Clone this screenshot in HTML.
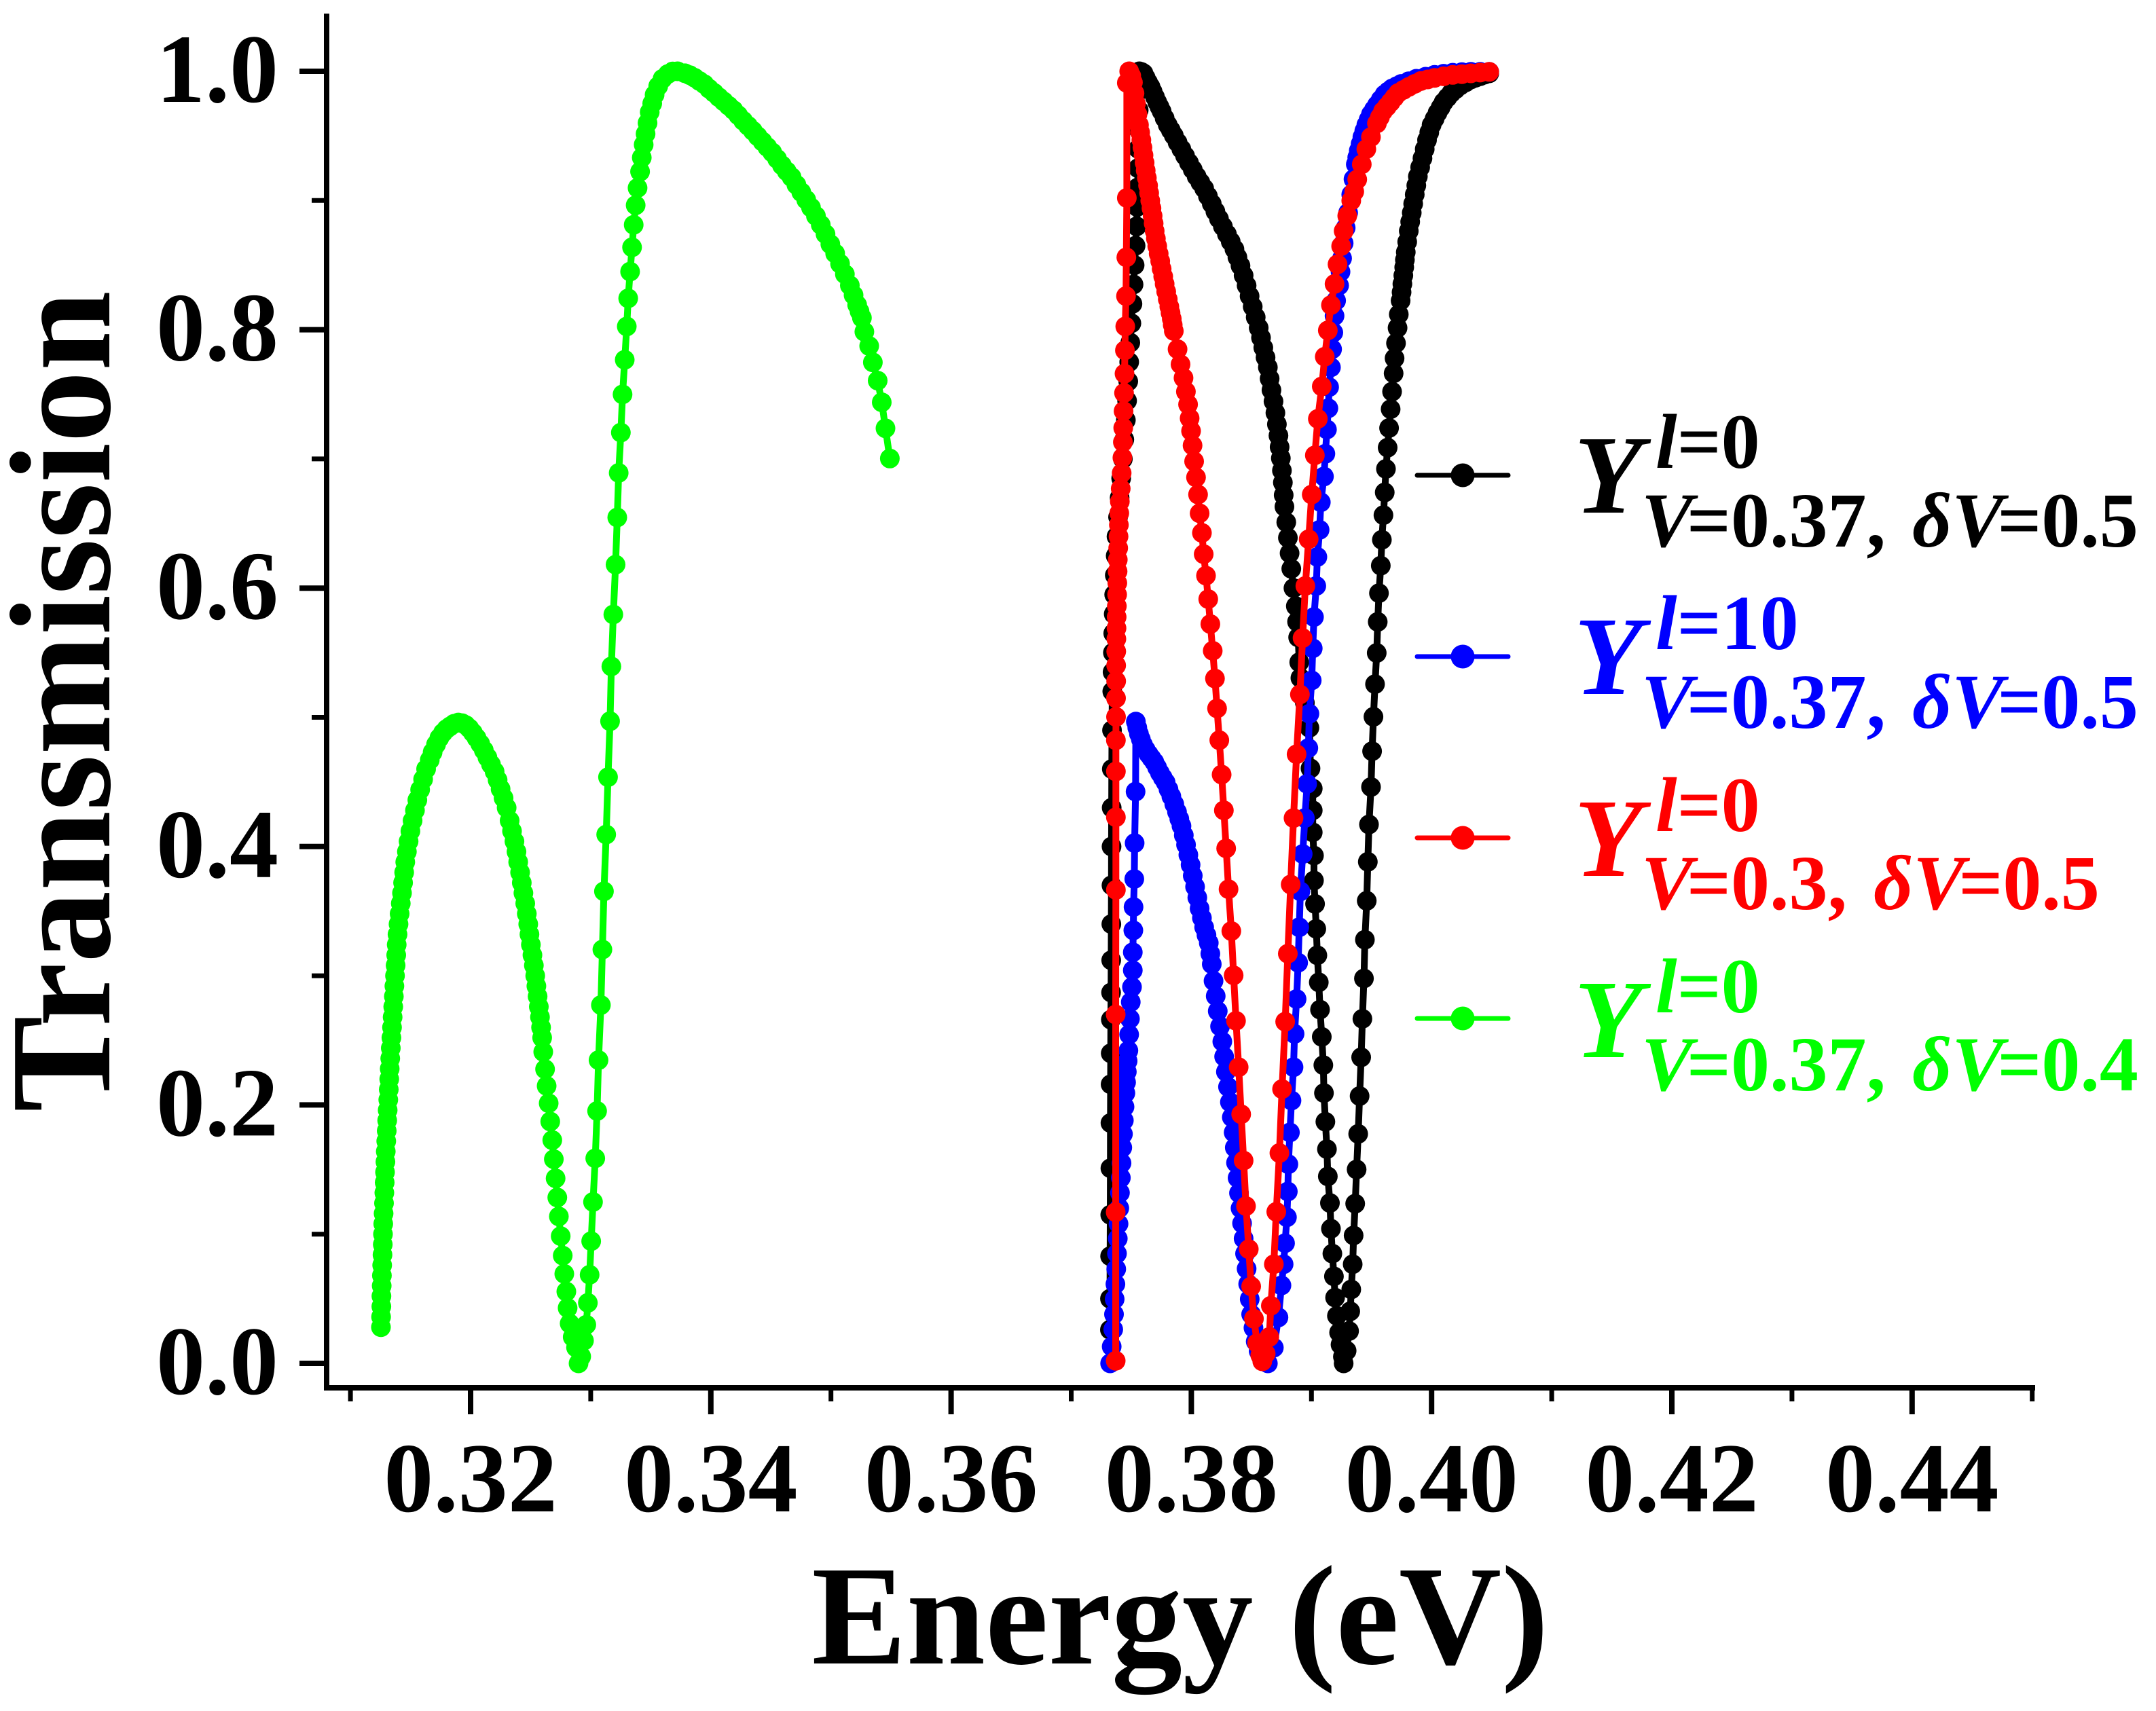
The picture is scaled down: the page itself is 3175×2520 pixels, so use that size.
<!DOCTYPE html>
<html>
<head>
<meta charset="utf-8">
<title>Transmission vs Energy</title>
<style>
html,body{margin:0;padding:0;background:#fff;width:3175px;height:2520px;overflow:hidden}
svg{display:block}
text{font-family:"Liberation Serif","Noto Serif CJK SC",serif;font-weight:bold}
.it{font-style:italic}
</style>
</head>
<body>
<svg id="chart" xmlns="http://www.w3.org/2000/svg" width="3175" height="2520" viewBox="0 0 3175 2520">
<rect x="0" y="0" width="3175" height="2520" fill="#fff"/>
<g id="plot"></g>
<g id="axes"></g>
<text x="1738" y="2450" font-size="209" text-anchor="middle">Energy (eV)</text>
<text transform="translate(161,1033) rotate(-90)" font-size="212" text-anchor="middle">Transmission</text>
<g>
 <g fill="#000">
  <line x1="2087" y1="700" x2="2221" y2="700" stroke="#000" stroke-width="7" stroke-linecap="round"/>
  <circle cx="2154" cy="700" r="17.5"/>
  <text class="it" x="2318" y="755" font-size="165">Y</text>
  <text x="2438" y="689" font-size="114"><tspan class="it">l</tspan>=0</text>
  <text x="2417" y="805" font-size="114"><tspan class="it">V</tspan><tspan dx="-9">=0.37,</tspan><tspan class="it" x="2816">δV</tspan><tspan dx="-9">=0.5</tspan></text>
 </g>
 <g fill="#0000ff">
  <line x1="2087" y1="967" x2="2221" y2="967" stroke="#0000ff" stroke-width="7" stroke-linecap="round"/>
  <circle cx="2154" cy="967" r="17.5"/>
  <text class="it" x="2318" y="1022" font-size="165">Y</text>
  <text x="2438" y="956" font-size="114"><tspan class="it">l</tspan>=10</text>
  <text x="2417" y="1072" font-size="114"><tspan class="it">V</tspan><tspan dx="-9">=0.37,</tspan><tspan class="it" x="2816">δV</tspan><tspan dx="-9">=0.5</tspan></text>
 </g>
 <g fill="#ff0000">
  <line x1="2087" y1="1234" x2="2221" y2="1234" stroke="#ff0000" stroke-width="7" stroke-linecap="round"/>
  <circle cx="2154" cy="1234" r="17.5"/>
  <text class="it" x="2318" y="1290" font-size="165">Y</text>
  <text x="2438" y="1224" font-size="114"><tspan class="it">l</tspan>=0</text>
  <text x="2417" y="1339" font-size="114"><tspan class="it">V</tspan><tspan dx="-9">=0.3,</tspan><tspan class="it" x="2759">δV</tspan><tspan dx="-9">=0.5</tspan></text>
 </g>
 <g fill="#00ff00">
  <line x1="2087" y1="1500" x2="2221" y2="1500" stroke="#00ff00" stroke-width="7" stroke-linecap="round"/>
  <circle cx="2154" cy="1500" r="17.5"/>
  <text class="it" x="2318" y="1557" font-size="165">Y</text>
  <text x="2438" y="1491" font-size="114"><tspan class="it">l</tspan>=0</text>
  <text x="2417" y="1606" font-size="114"><tspan class="it">V</tspan><tspan dx="-9">=0.37,</tspan><tspan class="it" x="2816">δV</tspan><tspan dx="-9">=0.4</tspan></text>
 </g>
</g>
</svg>
<script>
const xMajorTicks=[0.32,0.34,0.36,0.38,0.40,0.42,0.44];
const xMajorLabels=["0.32","0.34","0.36","0.38","0.40","0.42","0.44"];
const xMinorTicks=[0.31,0.33,0.35,0.37,0.39,0.41,0.43,0.45];
const yMajorTicks=[0,0.2,0.4,0.6,0.8,1.0];
const yMajorLabels=["0.0","0.2","0.4","0.6","0.8","1.0"];
const yMinorTicks=[0.1,0.3,0.5,0.7,0.9];

const blackSeries=[[.37322,.026],[.37323,.05],[.37324,.083],[.37325,.115],[.37326,.151],[.37327,.186],[.37328,.216],[.37329,.24],[.3733,.266],[.37332,.287],[.37333,.312],[.37334,.34],[.37335,.37],[.37336,.4],[.37337,.43],[.37338,.46],[.3734,.49],[.37342,.52],[.37344,.535],[.37347,.55],[.3735,.565],[.37354,.58],[.37358,.595],[.37363,.61],[.3737,.625],[.37377,.64],[.3739,.655],[.37403,.67],[.37416,.685],[.3743,.7],[.37442,.715],[.37455,.73],[.37465,.745],[.37475,.76],[.37483,.775],[.37492,.79],[.37501,.805],[.3751,.82],[.37519,.835],[.37528,.85],[.37536,.865],[.37545,.88],[.37549,.895],[.37553,.91],[.37556,.925],[.37558,.94],[.3756,.955],[.37562,.97],[.37565,.985],[.37567,1],
[.37585,.9995],[.37602,.9984],[.3762,.995],[.3764,.9914],[.3766,.988],[.37678,.9843],[.37697,.9802],[.37716,.9761],[.37735,.9725],[.37753,.969],[.37778,.9637],[.37804,.9585],[.37829,.9544],[.37854,.9503],[.37885,.945],[.37917,.9398],[.37948,.9345],[.3798,.9292],[.38012,.9239],[.38044,.9186],[.38075,.914],[.38107,.9093],[.38138,.9034],[.3817,.8975],[.382,.8916],[.3823,.8858],[.38263,.8799],[.38296,.874],[.38328,.8682],[.38359,.8623],[.38384,.856],[.38409,.8495],[.38435,.842],[.3846,.8342],[.38485,.826],[.38511,.8178],[.38536,.8096],[.38561,.8014],[.3858,.7938],[.38599,.7861],[.38618,.7785],[.38637,.7709],[.38652,.7621],[.38667,.7533],[.38684,.7445],[.387,.7357],[.38712,.7268],[.38725,.718],[.38735,.7092],[.38745,.7005],[.38754,.691],[.38762,.6817],[.38769,.672],[.38775,.663],[.3879,.651],[.38804,.639],[.38818,.627],[.38832,.615],[.3885,.6],[.3887,.586],[.3888,.574],[.38889,.5619],[.38898,.5426],[.38908,.5305],[.38945,.5112],[.38983,.4919],[.38992,.4605],[.39011,.4449],[.39011,.428],[.39011,.411],[.39021,.393],[.39021,.3737],[.3903,.3556],[.3904,.3363],[.39049,.3158],
[.39061,.2949],[.39071,.2738],[.39086,.2527],[.39099,.2308],[.39104,.2092],[.39116,.187],[.39129,.1658],[.39136,.1447],[.39154,.1241],[.39162,.1042],[.39174,.0849],[.39187,.0673],[.39197,.0509],[.39212,.0368],[.3923,.0239],[.39242,.0145],[.39262,.0052],[.39268,0],
[.39293,.0098],[.39313,.025],[.39323,.0403],[.39331,.0572],[.39343,.0767],[.39351,.099],[.39364,.1236],[.39376,.1501],[.39389,.1776],[.39401,.2069],[.39414,.2369],[.39424,.2667],[.39437,.2979],[.39445,.3279],[.3946,.358],[.39469,.3882],[.39479,.4171],[.39496,.4461],[.39505,.4738],[.39516,.5004],[.39529,.5257],[.39543,.5498],[.39552,.5739],[.39562,.5961],[.39577,.6174],[.39586,.6374],[.39599,.6565],[.3961,.6741],[.3962,.6923],[.39634,.7087],[.39646,.7239],[.39659,.7385],[.39671,.7521],[.39684,.7662],[.39692,.7779],[.39704,.7896],[.39717,.8014],[.39727,.8119],[.39742,.8225],[.3975,.829],[.39757,.8354],[.39765,.842],[.39772,.8483],[.39778,.854],[.39785,.86],[.39797,.868],[.3981,.8764],[.39822,.8835],[.39835,.8905],[.39847,.8975],[.3986,.9046],[.39873,.9116],[.39886,.9186],[.39905,.9257],[.39924,.9327],[.39943,.9398],[.39962,.9468],[.39981,.9527],[.4,.9585],[.40025,.9632],[.4005,.9679],[.40075,.972],[.401,.9761],[.40132,.9797],[.40164,.9832],[.402,.9861],[.40239,.989],[.40283,.9914],[.40328,.9937],[.40366,.995],[.40404,.9962],[.40442,.9974],[.4048,.9984]];

const blueSeries=[[.37324,0],[.37337,.013],[.3735,.0263],[.37356,.038],[.37362,.0497],[.37368,.0613],[.37375,.073],[.37381,.085],[.37388,.0966],[.37394,.108],[.374,.1201],[.37406,.132],[.37413,.1436],[.37419,.155],[.37425,.167],[.37431,.1775],[.37438,.188],[.37444,.1986],[.37451,.2092],[.37457,.2175],[.37463,.2257],[.3747,.234],[.37476,.2421],[.37482,.2545],[.37489,.2667],[.37496,.2796],[.37506,.2913],[.37513,.3042],[.37513,.3182],[.37517,.3351],[.37519,.3532],[.37525,.3749],[.37528,.4027],[.37536,.4425],[.37538,.4967],
[.3755,.492],[.37564,.4871],[.3758,.483],[.37598,.4787],[.3762,.475],[.37645,.4714],[.37668,.4684],[.37692,.4654],[.37715,.4612],[.37739,.4569],[.37762,.4533],[.37786,.4497],[.3781,.4443],[.37834,.4388],[.37858,.4328],[.37881,.4268],[.379,.4214],[.37918,.4159],[.37937,.4087],[.37956,.4014],[.37975,.3936],[.37994,.3858],[.38012,.3774],[.38031,.3689],[.3805,.3605],[.38069,.352],[.38088,.3447],[.38107,.3375],[.38126,.3315],[.38145,.3254],[.38158,.317],[.3817,.309],[.38185,.296],[.38203,.2843],[.3822,.2726],[.38239,.2608],[.38258,.2491],[.38273,.2374],[.38288,.2257],[.38305,.214],[.38321,.2022],[.38337,.1905],[.38352,.1787],[.38362,.167],[.38372,.1553],[.38385,.1435],[.38397,.1318],[.3841,.12],[.38422,.1084],[.38435,.0966],[.38447,.0849],[.3846,.0732],[.38473,.0615],[.38486,.0497],[.38498,.038],[.38517,.0275],[.38536,.0169],[.3856,.0095],[.38586,.004],[.38637,0],
[.38687,.0122],[.38725,.0356],[.3875,.0603],[.38768,.0767],[.3878,.093],[.38796,.1131],[.38803,.133],[.38808,.1541],[.38821,.1787],[.38834,.2034],[.38851,.2292],[.38859,.255],[.38876,.282],[.38889,.3101],[.38898,.3375],[.38908,.3653],[.38927,.3942],[.38945,.422],[.38964,.4485],[.38974,.4762],[.38983,.5028],[.39002,.5286],[.39011,.5534],[.39021,.5776],[.3904,.6017],[.39049,.6241],[.39068,.6451],[.39078,.6665],[.39104,.6864],[.39116,.704],[.39129,.7228],[.39141,.7392],[.39147,.7556],[.39162,.7709],[.39172,.7849],[.39182,.7978],[.39192,.8107],[.39205,.8225],[.3923,.8342],[.39242,.8448],[.39255,.8553],[.39268,.867],[.39285,.8788],[.39305,.8905],[.39331,.9046],[.3935,.9165],[.39369,.928],[.39381,.9333],[.39394,.9386],[.39409,.9438],[.39424,.9491],[.3944,.9538],[.39457,.9585],[.39476,.9626],[.39495,.9667],[.3952,.9703],[.39545,.9738],[.39576,.978],[.39608,.982],[.3964,.9845],[.39671,.9867],[.3971,.9885],[.39747,.9902],[.3981,.9923],[.39873,.9942],[.3995,.9958],[.40025,.9972],[.401,.9981],[.40176,.9989],[.40252,.9993],[.40327,.9996],[.40404,.9996],[.4048,.9996]];

const redSeries=[[.3737,.002],[.3737,.117],[.3737,.27],[.37372,.3665],[.37372,.4227],[.37372,.4581],[.37372,.4823],[.37373,.5003],[.37373,.5148],[.37374,.528],[.37374,.5402],[.37375,.551],[.37376,.5607],[.37377,.569],[.37378,.5776],[.3738,.586],[.37382,.595],[.37384,.604],[.37386,.613],[.37388,.622],[.37391,.631],[.37394,.64],[.37397,.649],[.374,.658],[.37405,.667],[.37412,.677],[.3742,.689],[.37426,.701],[.3743,.713],[.37433,.724],[.37436,.737],[.3744,.751],[.37444,.766],[.37447,.784],[.3745,.8025],[.37456,.826],[.37459,.856],[.37463,.902],[.37463,.991],[.37483,1],
[.375,.9965],[.37514,.9914],[.37527,.983],[.37539,.9749],[.37552,.9667],[.37564,.9585],[.37574,.9527],[.37584,.9468],[.37593,.941],[.37602,.9351],[.37611,.9292],[.3762,.9233],[.3763,.9175],[.3764,.9116],[.37649,.9058],[.37658,.8999],[.37668,.894],[.37678,.8881],[.37686,.8823],[.37695,.8764],[.37705,.8705],[.37716,.8647],[.37728,.8588],[.37741,.853],[.37753,.8471],[.37766,.8412],[.37778,.8354],[.37791,.8295],[.37804,.8236],[.37817,.8178],[.37827,.813],[.37837,.8084],[.37845,.8037],[.37854,.799],[.37885,.7849],[.3791,.7732],[.37935,.7627],[.37955,.7521],[.37973,.7422],[.37986,.7315],[.37998,.7216],[.3801,.7104],[.38023,.6981],[.38039,.6857],[.38056,.6724],[.38069,.6579],[.38088,.6427],[.38103,.6263],[.38122,.6096],[.38141,.5915],[.38158,.5722],[.38178,.5515],[.38197,.53],[.38214,.5069],[.38233,.4823],[.38252,.4557],[.38271,.428],[.3829,.3986],[.3831,.367],[.38333,.3346],
[.38352,.3003],[.38372,.2651],[.38394,.2292],[.38415,.1928],[.38435,.1569],[.38455,.1217],[.38478,.0884],[.38498,.0596],[.38521,.0345],[.38548,.0157],[.38574,.0063],[.38591,.0016],[.38619,.0075],[.38649,.0204],[.38662,.0446],[.38687,.0767],[.38707,.1173],[.38733,.1628],[.38755,.2123],[.38781,.2644],[.38803,.3171],[.38827,.3706],[.38851,.422],[.38876,.4714],[.38904,.5177],[.38926,.5614],[.38949,.6017],[.38977,.6379],[.39002,.6724],[.39028,.7028],[.39053,.731],[.39086,.7561],[.39111,.7791],[.39136,.7995],[.39162,.819],[.39192,.8354],[.39217,.8506],[.39247,.8647],[.39268,.8764],[.39298,.8881],[.39331,.8999],[.39356,.9069],[.39381,.9163],[.39419,.928],[.39457,.9398],[.39495,.9491],[.39545,.9597],[.3957,.9645],[.39596,.9691],[.39628,.9726],[.39659,.9761],[.3969,.9797],[.39722,.9832],[.39766,.9856],[.3981,.9879],[.3986,.9903],[.39911,.9925],[.39968,.9937],[.40025,.9949],[.401,.9961],[.40176,.9972],[.40252,.9978],[.40327,.9984],[.40404,.999],[.4048,.9996]];

const greenSeries=[[.31254,.028],[.31255,.036],[.31257,.044],[.31258,.052],[.3126,.06],[.31262,.068],[.31264,.076],[.31267,.084],[.31269,.092],[.31271,.1],[.31273,.108],[.31276,.116],[.31279,.124],[.31282,.132],[.31285,.14],[.31288,.148],[.31291,.156],[.31294,.164],[.31298,.172],[.31302,.18],[.31306,.188],[.3131,.196],[.31315,.204],[.31319,.212],[.31323,.22],[.31327,.228],[.31331,.236],[.31336,.244],[.31341,.252],[.31346,.26],[.31351,.268],[.31356,.276],[.31361,.284],[.31366,.292],[.31371,.3],[.31376,.308],[.31381,.316],[.31385,.324],[.31392,.332],[.314,.34],[.31409,.348],[.31419,.356],[.31429,.364],[.31438,.372],[.31447,.38],[.31456,.388],[.3147,.396],[.31484,.404],[.31499,.412],[.31517,.42],[.31537,.428],[.31557,.436],[.3158,.444],[.31605,.452],[.3163,.46],[.3166,.467],[.31684,.473],[.31712,.479],[.3174,.484],[.3177,.488],[.318,.491],[.3183,.493],[.31862,.495],[.31898,.496],
[.3193,.4955],[.3196,.494],[.3199,.4915],[.3202,.488],[.3205,.484],[.3208,.4795],[.3211,.4745],[.3214,.469],[.3217,.4635],[.322,.458],[.32225,.4515],[.3225,.4445],[.32275,.4375],[.323,.43],[.32325,.42],[.32345,.412],[.32365,.404],[.32382,.396],[.32396,.388],[.32412,.38],[.32426,.372],[.3244,.364],[.32455,.356],[.32468,.348],[.3248,.34],[.3249,.332],[.32502,.324],[.32515,.316],[.32527,.308],[.32538,.3],[.32548,.292],[.32558,.284],[.32568,.276],[.32578,.268],[.32587,.26],[.32596,.252],[.32605,.2411],
[.3262,.2277],[.32633,.2147],[.3265,.2013],[.32663,.1872],[.3268,.1728],[.32693,.158],[.32708,.1432],[.32722,.1284],[.32735,.1137],[.3275,.0985],[.32767,.0834],[.3278,.0693],[.32797,.0556],[.32808,.0429],[.32825,.0309],[.3285,.0204],[.32878,.0123],[.32899,0],
[.32921,.0053],[.32944,.0176],[.32963,.0299],[.32976,.0468],[.32991,.0686],[.33004,.0946],[.33019,.1249],[.33038,.1587],[.33053,.1953],[.33065,.2347],[.33085,.2773],[.33097,.3203],[.3311,.3653],[.33129,.4093],[.33144,.4537],[.33161,.497],[.33172,.5394],[.33188,.5796],[.33207,.6182],[.33221,.6547],[.33233,.6892],[.33251,.7204],[.33265,.7499],[.33283,.7767],[.333,.8025],[.33312,.8243],[.33328,.845],[.33344,.8638],[.33358,.8812],[.33374,.8963],[.3339,.9097],[.33411,.9224],[.33425,.9332],[.33441,.9432],[.33457,.9516],[.33473,.96],[.33491,.9684],[.33512,.9751],[.33532,.9818],[.33562,.9885],[.33598,.9942],[.33643,.9979],[.33683,.9999],[.33723,1],
[.33784,.9985],[.33825,.997],[.33865,.995],[.33905,.9925],[.33946,.99],[.33986,.9865],[.34026,.9834],[.34066,.98],[.34107,.9767],[.34148,.9733],[.34188,.97],[.34228,.966],[.34269,.9617],[.3431,.9578],[.3435,.9539],[.3439,.9497],[.3443,.9456],[.3447,.9414],[.34511,.9372],[.34552,.9322],[.34592,.9272],[.34632,.9226],[.34672,.9181],[.34712,.9122],[.34753,.9064],[.34794,.9005],[.34834,.8946],[.34875,.888],[.34915,.8812],[.34955,.874],[.34995,.8662],[.35035,.859],[.35076,.8511],[.35116,.843],[.35157,.8343],[.35188,.8268],[.35218,.8192],[.35238,.8142],[.35258,.8092],[.35278,.7984],[.35318,.7874],[.35349,.7747],[.35389,.7606],[.35423,.7438],[.35454,.7237],[.3549,.7003]];

function xScale(e){return 693+(e-0.32)*17690;}
function yScale(t){return 2008-t*1903;}

const NS="http://www.w3.org/2000/svg";
const axes=document.getElementById("axes");
const plot=document.getElementById("plot");

function addLine(parent,x1,y1,x2,y2,w,name){
  const l=document.createElementNS(NS,"line");
  l.setAttribute("x1",x1);l.setAttribute("y1",y1);l.setAttribute("x2",x2);l.setAttribute("y2",y2);
  l.setAttribute("stroke","#000");l.setAttribute("stroke-width",w);
  
  
  parent.appendChild(l);
}
function addLabel(parent,x,y,str,size,anchor,name){
  const t=document.createElementNS(NS,"text");
  t.setAttribute("x",x);t.setAttribute("y",y);t.setAttribute("font-size",size);t.setAttribute("text-anchor",anchor);
  t.textContent=str;
  
  
  parent.appendChild(t);
}

addLine(axes,481,20,481,2048,8,"y-axis-line");
addLine(axes,477,2044,2997,2044,8,"x-axis-line");

xMajorTicks.forEach(function(v,i){
  addLine(axes,xScale(v),2044,xScale(v),2083,8,"x-major-tick");
  addLabel(axes,xScale(v),2226,xMajorLabels[i],146,"middle","x-tick-label");
});
xMinorTicks.forEach(function(v){
  addLine(axes,xScale(v),2044,xScale(v),2064,7,"x-minor-tick");
});
yMajorTicks.forEach(function(v,i){
  addLine(axes,441,yScale(v),481,yScale(v),8,"y-major-tick");
  addLabel(axes,410,yScale(v)+45,yMajorLabels[i],144,"end","y-tick-label");
});
yMinorTicks.forEach(function(v){
  addLine(axes,459,yScale(v),481,yScale(v),7,"y-minor-tick");
});

function drawSeries(points,color,name){
  const g=document.createElementNS(NS,"g");
  
  
  const p=document.createElementNS(NS,"polyline");
  p.setAttribute("points",points.map(function(d){return xScale(d[0]).toFixed(1)+","+yScale(d[1]).toFixed(1);}).join(" "));
  p.setAttribute("fill","none");p.setAttribute("stroke",color);p.setAttribute("stroke-width",10);p.setAttribute("stroke-linejoin","round");
  
  
  g.appendChild(p);
  points.forEach(function(d){
    const c=document.createElementNS(NS,"circle");
    c.setAttribute("cx",xScale(d[0]).toFixed(1));c.setAttribute("cy",yScale(d[1]).toFixed(1));c.setAttribute("r",14.5);c.setAttribute("fill",color);
    
    
    g.appendChild(c);
  });
  plot.appendChild(g);
}
drawSeries(blackSeries,"#000000","series-black");
drawSeries(blueSeries,"#0000ff","series-blue");
drawSeries(redSeries,"#ff0000","series-red");
drawSeries(greenSeries,"#00ff00","series-green");
</script>
</body>
</html>
